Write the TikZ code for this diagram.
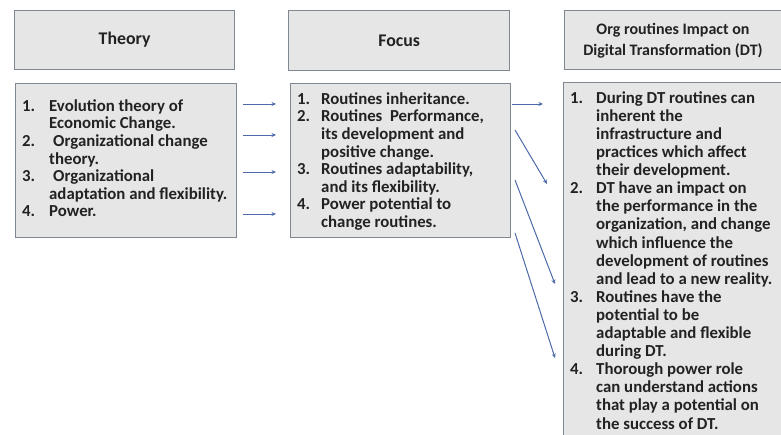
\documentclass[tikz,border=0pt]{standalone}
\usepackage{fontspec}
\setmainfont{Carlito}
\usetikzlibrary{arrows.meta}

\definecolor{boxfill}{RGB}{230,230,230}
\definecolor{boxline}{RGB}{128,136,148}
\definecolor{arrowblue}{RGB}{78,106,168}
\definecolor{ink}{RGB}{34,34,34}

% one numbered line and one continuation line of a list
\newcommand{\numline}[3]{\makebox[#1][l]{#2}#3}
\newcommand{\contline}[2]{\hspace*{#1}#2}
% fixes the height of a first line, so the top of a list sits 14pt above its first baseline
\newcommand{\topstrut}{\rule{0pt}{14pt}}

\begin{document}
\begin{tikzpicture}[x=1pt,y=-1pt,
  panel/.style={draw=boxline, line width=1.2pt, fill=boxfill, anchor=north west,
                inner sep=0pt, text=ink},
  headtext/.style={font={\bfseries\fontsize{16}{21}\selectfont}, align=center, text=ink},
  bighead/.style={headtext, font={\bfseries\fontsize{17.8}{21}\selectfont}},
  listtext/.style={anchor=north west, inner sep=0pt, align=left, text=ink,
                   font={\bfseries\fontsize{16.8}{17.6}\selectfont}},
  dttext/.style={listtext, font={\bfseries\fontsize{16.8}{18.1}\selectfont}},
  link/.style={draw=arrowblue, line width=1pt, -{Stealth[length=4.5pt,width=4pt]}}
]
\useasboundingbox (0,0) rectangle (781,434);
\clip (0,0) rectangle (781,434);

% column headers
\node[panel, minimum width=220pt, minimum height=59pt] (theoryHead) at (14,10) {};
\node[bighead] (theoryTitle) at (theoryHead.center) {Theory};
\node[panel, minimum width=221pt, minimum height=60pt] (focusHead) at (288,10) {};
\node[bighead] (focusTitle) at (focusHead.center) {Focus};
\node[panel, minimum width=220pt, minimum height=59pt] (dtHead) at (564,10) {};
\node[headtext] (dtTitle) at (673,40.5) {Org routines Impact on\\Digital Transformation (DT)};

% list panels
\node[panel, minimum width=221pt, minimum height=154pt] (theoryList) at (15,83) {};
\node[panel, minimum width=220pt, minimum height=154pt] (focusList) at (290,83) {};
\node[panel, minimum width=230pt, minimum height=370pt] (dtList) at (563,82) {};

\node[listtext] (theoryItems) at (22,97) {%
  \topstrut\numline{27pt}{1.}{Evolution theory of}\\
  \contline{27pt}{Economic Change.}\\
  \numline{27pt}{2.}{\hspace*{4pt}Organizational change}\\
  \contline{27pt}{theory.}\\
  \numline{27pt}{3.}{\hspace*{4pt}Organizational}\\
  \contline{27pt}{adaptation and flexibility.}\\
  \numline{27pt}{4.}{Power.}};

\node[listtext] (focusItems) at (297,90) {%
  \topstrut\numline{24pt}{1.}{Routines inheritance.}\\
  \numline{24pt}{2.}{Routines\ \ Performance,}\\
  \contline{24pt}{its development and}\\
  \contline{24pt}{positive change.}\\
  \numline{24pt}{3.}{Routines adaptability,}\\
  \contline{24pt}{and its flexibility.}\\
  \numline{24pt}{4.}{Power potential to}\\
  \contline{24pt}{change routines.}};

\node[dttext] (dtItems) at (570,89) {%
  \topstrut\numline{26pt}{1.}{During DT routines can}\\
  \contline{26pt}{inherent the}\\
  \contline{26pt}{infrastructure and}\\
  \contline{26pt}{practices which affect}\\
  \contline{26pt}{their development.}\\
  \numline{26pt}{2.}{DT have an impact on}\\
  \contline{26pt}{the performance in the}\\
  \contline{26pt}{organization, and change}\\
  \contline{26pt}{which influence the}\\
  \contline{26pt}{development of routines}\\
  \contline{26pt}{and lead to a new reality.}\\
  \numline{26pt}{3.}{Routines have the}\\
  \contline{26pt}{potential to be}\\
  \contline{26pt}{adaptable and flexible}\\
  \contline{26pt}{during DT.}\\
  \numline{26pt}{4.}{Thorough power role}\\
  \contline{26pt}{can understand actions}\\
  \contline{26pt}{that play a potential on}\\
  \contline{26pt}{the success of DT.}};

% arrow ends between the columns
\coordinate (ta1) at (243,104); \coordinate (tb1) at (276,104);
\coordinate (ta2) at (243,135); \coordinate (tb2) at (276,135);
\coordinate (ta3) at (243,172); \coordinate (tb3) at (276,172);
\coordinate (ta4) at (243,214); \coordinate (tb4) at (276,214);
\coordinate (fa1) at (512,104); \coordinate (fb1) at (543,104);
\coordinate (fa2) at (515,130); \coordinate (fb2) at (547,184);
\coordinate (fa3) at (515,180); \coordinate (fb3) at (555,284);
\coordinate (fa4) at (515,233); \coordinate (fb4) at (555,358);

\foreach \i in {1,...,4} {
  \draw[link] (ta\i) -- (tb\i);
  \draw[link] (fa\i) -- (fb\i);
}
\end{tikzpicture}
\end{document}
